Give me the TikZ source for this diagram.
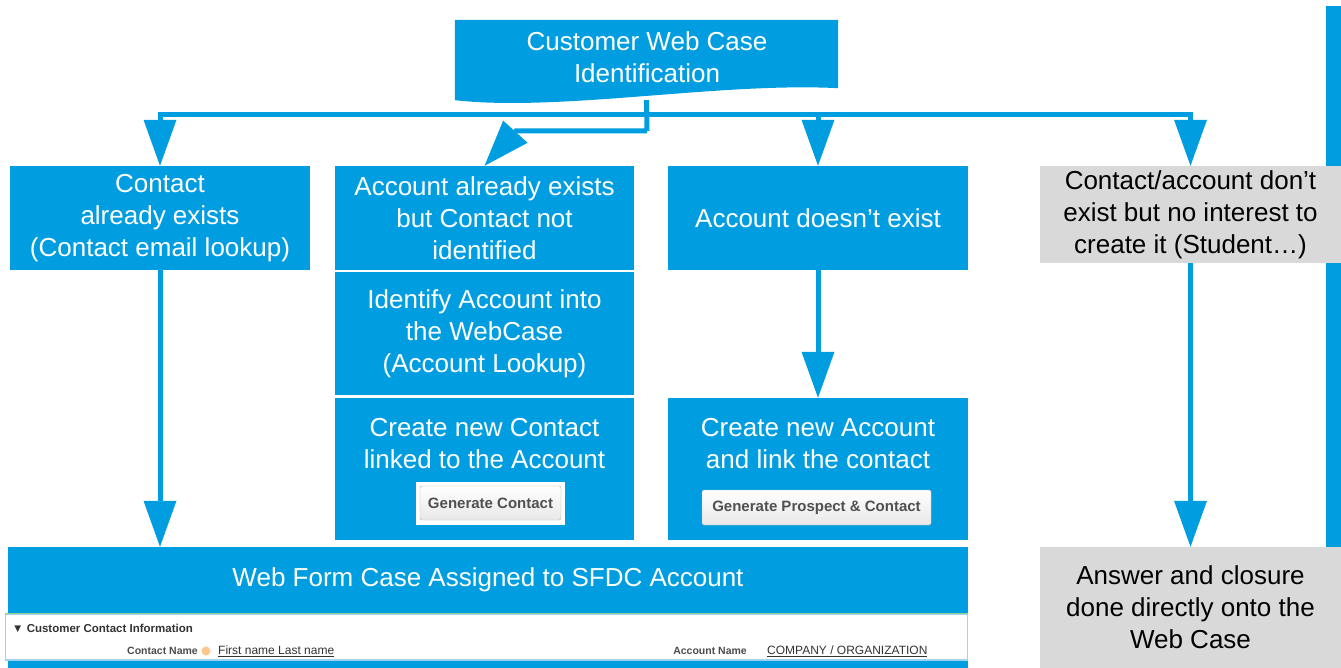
\documentclass[tikz,border=0pt]{standalone}
\usepackage{fontspec}
\setmainfont{Liberation Sans}
\usetikzlibrary{arrows.meta}
\definecolor{cblue}{RGB}{0,158,224}
\definecolor{cgray}{RGB}{217,217,217}
\definecolor{panelborder}{RGB}{160,210,235}
\definecolor{btntext}{RGB}{80,80,80}
\begin{document}
\begin{tikzpicture}[x=1pt,y=-1pt,
  bigtext/.style={font=\fontsize{26}{32}\selectfont, align=center},
  bluebox/.style={fill=cblue, text=white, inner sep=0pt, bigtext},
  graybox/.style={fill=cgray, text=black, inner sep=0pt, bigtext},
  conn/.style={draw=cblue, line width=5pt, -{Triangle[width=33pt,length=46pt,line width=0pt]}},
  btnframe/.style={fill=white, inner sep=0pt},
  btnbox/.style={draw=gray!60, top color=white, bottom color=gray!18, rounded corners=1.5pt, text=btntext, font=\bfseries\fontsize{15}{18}\selectfont, inner sep=0pt},
  smalltext/.style={font=\fontsize{12}{14}\selectfont, inner sep=0pt, text=black!80},
]
\useasboundingbox (0,0) rectangle (1341,668);

% right side bar
\fill[cblue] (1326,6) rectangle (1341,668);

% top box (document shape)
\node[inner sep=0pt, minimum width=383pt, minimum height=80pt] (top) at (646.5,60) {};
\fill[cblue] (top.north west) -- (top.north east) -- ([yshift=12pt]top.south east)
  .. controls (720,82) and (560,112) .. (top.south west) -- cycle;
\node[text=white, bigtext] (toptxt) at (647,57) {Customer Web Case\\Identification};

% first row boxes
\node[bluebox, minimum width=300pt, minimum height=104pt] (b1) at (160,218) {Contact\\already exists\\(Contact email lookup)};
\node[bluebox, minimum width=299pt, minimum height=104pt] (b2a) at (484.5,218) {Account already exists\\but Contact not\\identified};
\node[bluebox, minimum width=300pt, minimum height=104pt] (b3a) at (818,218) {Account doesn’t exist};
\node[graybox, minimum width=301pt, minimum height=97pt] (b4a) at (1190.5,214.5) {Contact/account don’t\\exist but no interest to\\create it (Student…)};

% second column stack
\node[bluebox, minimum width=299pt, minimum height=123pt] (b2b) at (484.5,333.5) {Identify Account into\\the WebCase\\(Account Lookup)};
\node[bluebox, minimum width=299pt, minimum height=142pt] (b2c) at (484.5,469) {};
\node[text=white, bigtext] (t2c) at (484.5,443.5) {Create new Contact\\linked to the Account};
\node[btnframe, minimum width=149pt, minimum height=43pt] (f2) at (490.5,503.5) {};
\node[btnbox, minimum width=141pt, minimum height=34pt] (btn2) at (490.5,503) {Generate Contact};

% third column
\node[bluebox, minimum width=300pt, minimum height=142pt] (b3c) at (818,469) {};
\node[text=white, bigtext] (t3c) at (818,443.5) {Create new Account\\and link the contact};
\node[btnbox, minimum width=229pt, minimum height=35pt] (btn3) at (816.5,507.5) {Generate Prospect \& Contact};

% right column bottom
\node[graybox, minimum width=301pt, minimum height=121pt] (b4b) at (1190.5,607.5) {Answer and closure\\done directly onto the\\Web Case};

% bottom band
\node[bluebox, minimum width=960pt, minimum height=66pt] (band) at (488,580) {Web Form Case Assigned to SFDC Account};
\node[draw=panelborder, line width=1.2pt, fill=white, minimum width=962pt, minimum height=46pt, inner sep=0pt] (panel) at (486.5,637) {};
\draw[green!40!gray!60, line width=1pt] (panel.north west) -- (panel.north east);
\fill[cblue] (8,660.5) rectangle (968,668);
\node[smalltext, font=\bfseries\fontsize{11.5}{14}\selectfont, anchor=west] (sect) at (12,628) {▼ Customer Contact Information};
\node[smalltext, font=\bfseries\fontsize{10.5}{13}\selectfont, anchor=east, text=black!70] (cnl) at (198,651) {Contact Name};
\node[circle, fill=orange!45, minimum size=9pt, inner sep=0pt] (qicon) at (206,651) {};
\node[smalltext, anchor=west] (cnv) at (218,651) {\underline{First name Last name}};
\node[smalltext, font=\bfseries\fontsize{10.5}{13}\selectfont, anchor=east, text=black!70] (anl) at (747,651) {Account Name};
\node[smalltext, anchor=west] (anv) at (767,651) {\underline{COMPANY / ORGANIZATION}};

% connectors
\coordinate (hub) at (647,115);
\coordinate (bend) at (647,131);
\coordinate (kink) at (516,131);
\draw[cblue, line width=5pt] (top.south) -- (bend);
\draw[conn] (hub) -| (b1.north);
\draw[conn] (hub) -| (b3a.north);
\draw[conn] (hub) -| (b4a.north);
\draw[conn] (bend) -- (kink) -- (b2a.north);
\draw[conn] (b1.south) -- (band.north -| b1.south);
\draw[conn] (b3a.south) -- (b3c.north);
\draw[conn] (b4a.south) -- (b4b.north);
\end{tikzpicture}
\end{document}
